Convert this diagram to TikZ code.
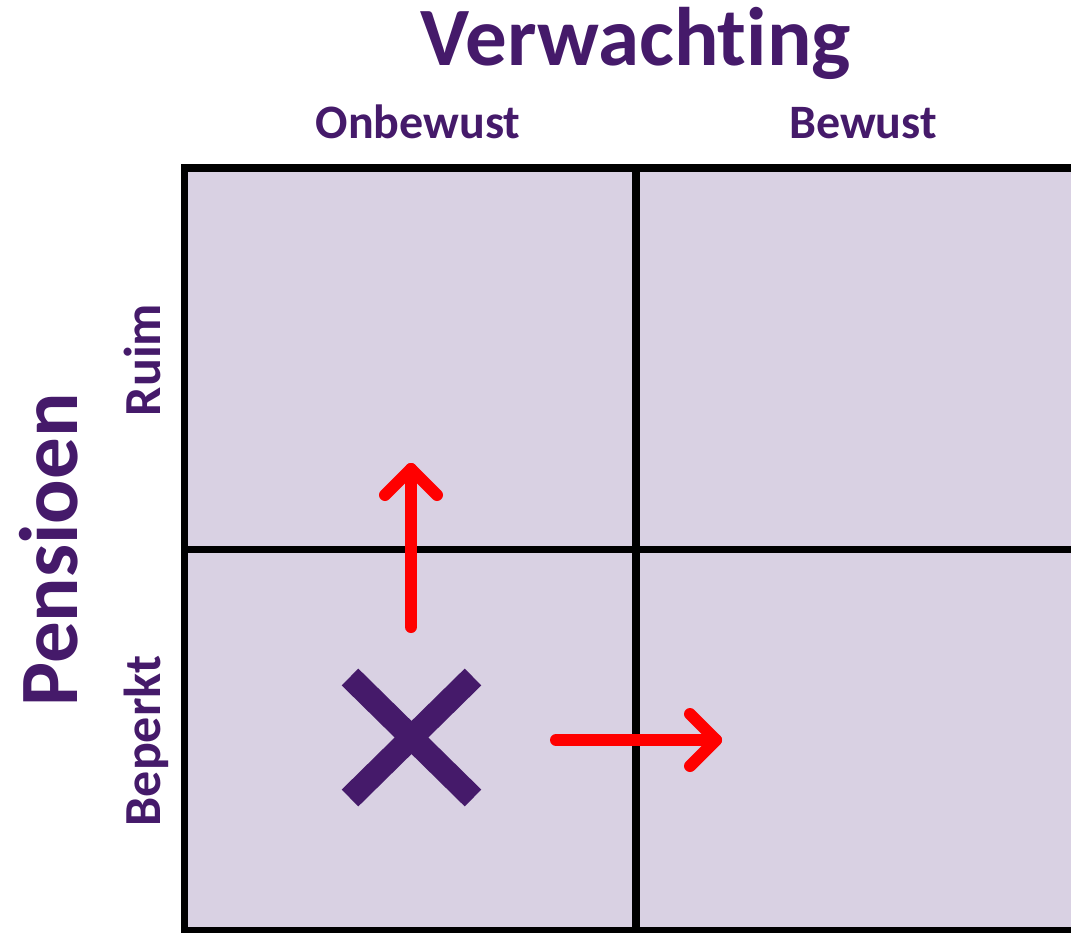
\documentclass[tikz,border=0pt]{standalone}
\usepackage{fontspec}
\setmainfont[Ligatures=NoCommon]{Carlito}
\definecolor{pur}{RGB}{69,26,106}
\definecolor{lav}{RGB}{217,209,227}
\definecolor{arrred}{RGB}{255,0,0}
\begin{document}
\begin{tikzpicture}[x=1pt,y=-1pt,
  gridline/.style={line width=7.5pt,black},
  redarrow/.style={line width=12pt,arrred,line cap=round,line join=round},
  cross/.style={line width=23.6pt,pur,line cap=butt},
  bigtitle/.style={font=\bfseries\fontsize{83}{90}\selectfont,text=pur,inner sep=0pt,anchor=base},
  sublabel/.style={font=\bfseries\fontsize{48}{56}\selectfont,text=pur,inner sep=0pt,anchor=base},
  sidelabel/.style={font=\bfseries\fontsize{52}{60}\selectfont,text=pur,inner sep=0pt,anchor=base,rotate=90}]
\useasboundingbox (0,0) rectangle (1071,932);
\clip (0,0) rectangle (1071,932);
% cells
\fill[lav] (184.5,168) rectangle (1120,931);
\draw[gridline] (1120,168) -- (184.5,168) -- (184.5,931) -- (1120,931);
\draw[gridline] (636,168) -- (636,931);
\draw[gridline] (184.5,549.5) -- (1120,549.5);
% titles
\node[bigtitle] (verw) at (636,65) {Verwachting};
\node[bigtitle,rotate=90] (pens) at (77,550) {Pensioen};
\node[sublabel] (onb) at (418,138) {Onbewust};
\node[sublabel] (bew) at (863,138) {Bewust};
\node[sidelabel] (ruim) at (160,360) {Ruim};
\node[sidelabel] (bep) at (160,741) {Beperkt};
% cross
\coordinate (xa) at (350,677);
\coordinate (xb) at (473,798);
\coordinate (xc) at (350,798);
\coordinate (xd) at (473,677);
\draw[cross] (xa) -- (xb);
\draw[cross] (xc) -- (xd);
% vertical arrow
\coordinate (vs) at (411,627);
\coordinate (vt) at (411,469);
\draw[redarrow] (vs) -- (vt);
\draw[redarrow] ([shift={(-26,26)}]vt) -- (vt) -- ([shift={(26,26)}]vt);
% horizontal arrow
\coordinate (hs) at (556,740);
\coordinate (ht) at (716,740);
\draw[redarrow] (hs) -- (ht);
\draw[redarrow] ([shift={(-26,-26)}]ht) -- (ht) -- ([shift={(-26,26)}]ht);
\end{tikzpicture}
\end{document}
